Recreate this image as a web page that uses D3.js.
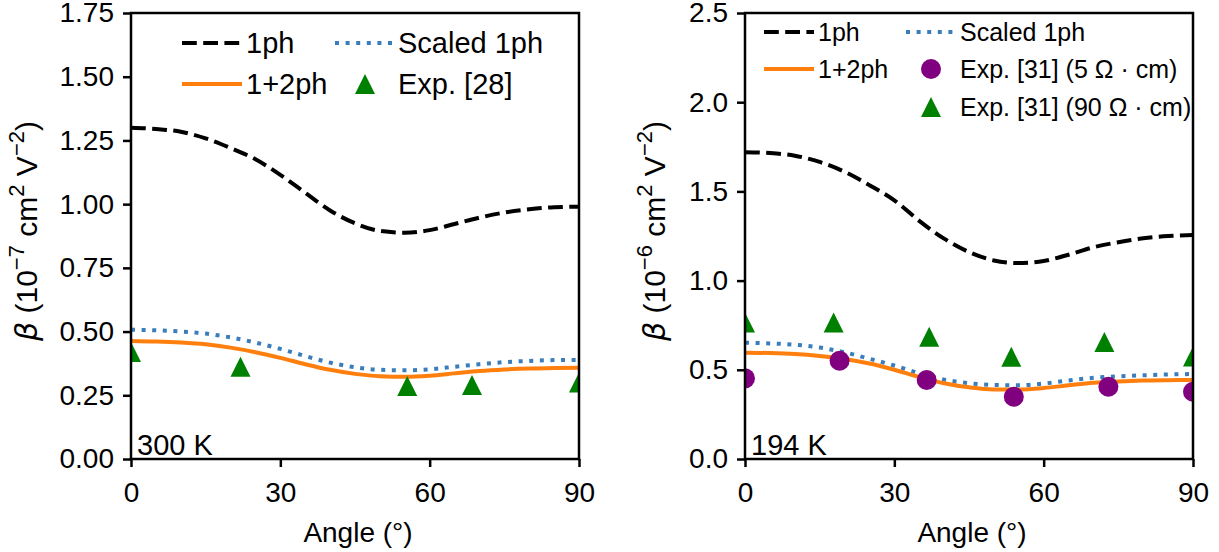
<!doctype html>
<html lang="en">
<head>
<meta charset="UTF-8" />
<title>Beta vs angle</title>
<script src="https://unpkg.com/d3@7.9.0/dist/d3.min.js"></script>
<style>
  body { margin: 0; background: #fff; overflow: hidden; }
  svg { font-family: 'Liberation Sans', Arial, sans-serif; }
  .axis text { font-size: 28px; fill: #000; font-family: 'Liberation Sans', Arial, sans-serif; }
  .axis line { stroke: #000; stroke-width: 2.5; }
  .frame { fill: none; stroke: #000; stroke-width: 2.5; }
  .curve { fill: none; stroke-width: 4; }
</style>
</head>
<body>
<svg width="1219" height="552"></svg>
<script>
const curveAngles = [0, 5, 10, 15, 20, 25, 30, 35, 40, 45, 50, 55, 60, 65, 70, 75, 80, 85, 90];

// 300 K panel (10^-7 cm^2 V^-2)
const left1ph = [1.30, 1.295, 1.284, 1.258, 1.22, 1.176, 1.115, 1.045, 0.975, 0.925, 0.895, 0.888, 0.898, 0.922, 0.947, 0.967, 0.98, 0.988, 0.99];
const leftScaled = [0.507, 0.505, 0.50, 0.492, 0.477, 0.457, 0.432, 0.404, 0.378, 0.36, 0.35, 0.348, 0.352, 0.362, 0.372, 0.38, 0.385, 0.388, 0.389];
const left12ph = [0.463, 0.461, 0.457, 0.45, 0.437, 0.419, 0.397, 0.372, 0.35, 0.334, 0.325, 0.323, 0.327, 0.336, 0.345, 0.351, 0.355, 0.357, 0.358];
const exp28Angles = [0, 22, 55.5, 68.5, 90];
const exp28Values = [0.42, 0.362, 0.286, 0.29, 0.30];

// 194 K panel (10^-6 cm^2 V^-2)
const right1ph = [1.72, 1.715, 1.70, 1.665, 1.61, 1.535, 1.45, 1.335, 1.235, 1.16, 1.113, 1.098, 1.11, 1.145, 1.187, 1.215, 1.237, 1.25, 1.255];
const rightScaled = [0.652, 0.648, 0.641, 0.625, 0.598, 0.562, 0.524, 0.48, 0.445, 0.425, 0.415, 0.413, 0.423, 0.44, 0.455, 0.463, 0.469, 0.474, 0.476];
const right12ph = [0.596, 0.594, 0.589, 0.578, 0.561, 0.535, 0.50, 0.46, 0.425, 0.402, 0.39, 0.39, 0.398, 0.413, 0.427, 0.435, 0.44, 0.442, 0.443];
const exp5Angles = [0, 19, 36.5, 54, 73, 90];
const exp5Values = [0.452, 0.551, 0.443, 0.349, 0.405, 0.377];
const exp90Angles = [0, 17.8, 37, 53.5, 72.2, 90];
const exp90Values = [0.765, 0.765, 0.685, 0.573, 0.656, 0.575];

const xTicks = [0, 30, 60, 90];
const leftYTicks = [0, 0.25, 0.5, 0.75, 1.0, 1.25, 1.5, 1.75];
const rightYTicks = [0, 0.5, 1.0, 1.5, 2.0, 2.5];

const colors = { one: '#000000', scaled: '#3a7dbd', two: '#ff7f0e', tri: '#008000', dot: '#800080' };
const dashed = '14.8,6.4';
const dotted = '4,6.6';
const markerSize = 20;

const svg = d3.select('svg');
const pw = 448, ph = 446;

function trianglePath(s) {
  return `M0,${-s / 2}L${s / 2},${s / 2}L${-s / 2},${s / 2}Z`;
}

function drawPanel(cfg) {
  const g = svg.append('g').attr('transform', `translate(${cfg.left},${cfg.top})`);
  const x = d3.scaleLinear().domain([0, 90]).range([0, pw]);
  const y = d3.scaleLinear().domain([0, cfg.yMax]).range([ph, 0]);

  g.append('clipPath').attr('id', cfg.id)
    .append('rect').attr('width', pw).attr('height', ph);

  const plot = g.append('g').attr('clip-path', `url(#${cfg.id})`);
  const line = d3.line()
    .x((d) => x(d[0]))
    .y((d) => y(d[1]))
    .curve(d3.curveMonotoneX);

  cfg.curves.forEach((c) => {
    plot.append('path')
      .attr('class', 'curve')
      .attr('d', line(curveAngles.map((a, i) => [a, c.values[i]])))
      .attr('stroke', c.color)
      .attr('stroke-dasharray', c.dash);
  });

  cfg.points.forEach((p) => {
    plot.append('g').selectAll('path')
      .data(p.angles.map((a, i) => [a, p.values[i]]))
      .enter()
      .append('path')
      .attr('transform', (d) => `translate(${x(d[0])},${y(d[1])})`)
      .attr('d', p.shape === 'tri' ? trianglePath(markerSize) : d3.symbol(d3.symbolCircle, Math.PI * 100)())
      .attr('fill', p.color);
  });

  // axes
  g.append('g').attr('class', 'axis')
    .call(d3.axisLeft(y).tickValues(cfg.yTicks).tickFormat(d3.format(cfg.yFmt)).tickSize(8).tickPadding(9))
    .call((a) => a.select('.domain').remove());
  g.append('g').attr('class', 'axis')
    .attr('transform', `translate(0,${ph})`)
    .call(d3.axisBottom(x).tickValues(xTicks).tickSize(8).tickPadding(15))
    .call((a) => a.select('.domain').remove());
  g.append('rect').attr('class', 'frame').attr('width', pw).attr('height', ph);

  g.append('text')
    .attr('x', pw / 2 + 3).attr('y', 529)
    .attr('text-anchor', 'middle')
    .attr('font-size', 28)
    .text('Angle (°)');

  const yl = g.append('text')
    .attr('transform', `translate(${cfg.labelX},${ph / 2 - 5}) rotate(-90)`)
    .attr('text-anchor', 'middle')
    .attr('font-size', 30);
  yl.append('tspan').attr('font-style', 'italic').attr('font-family', 'DejaVu Sans').text('β');
  yl.append('tspan').text(' (10');
  yl.append('tspan').attr('font-size', 22).attr('dy', -13).text(cfg.exp);
  yl.append('tspan').attr('dy', 13).text(' cm');
  yl.append('tspan').attr('font-size', 22).attr('dy', -13).text('2');
  yl.append('tspan').attr('dy', 13).text(' V');
  yl.append('tspan').attr('font-size', 22).attr('dy', -13).text('−2');
  yl.append('tspan').attr('dy', 13).text(')');

  g.append('text')
    .attr('x', 6).attr('y', ph - 4)
    .attr('font-size', 29)
    .text(cfg.temp);

  // legend
  const L = cfg.legend;
  L.items.forEach((it) => {
    const ly = L.rows[it.row];
    const col = L.cols[it.col];
    if (it.dash !== undefined) {
      g.append('line')
        .attr('x1', col.h0).attr('x2', col.h1)
        .attr('y1', ly).attr('y2', ly)
        .attr('stroke', it.color).attr('stroke-width', 4)
        .attr('stroke-dasharray', it.dash);
    } else {
      g.append('path')
        .attr('transform', `translate(${col.m},${ly})`)
        .attr('d', it.shape === 'tri' ? trianglePath(markerSize) : d3.symbol(d3.symbolCircle, Math.PI * 100)())
        .attr('fill', it.color);
    }
    g.append('text')
      .attr('x', col.t).attr('y', ly + L.fs * 0.36)
      .attr('font-size', L.fs)
      .text(it.label);
  });
}

drawPanel({
  id: 'clipL', left: 131, top: 13, yMax: 1.75, yTicks: leftYTicks, yFmt: '.2f',
  labelX: -94, exp: '−7', temp: '300 K',
  curves: [
    { values: left1ph, color: colors.one, dash: dashed },
    { values: leftScaled, color: colors.scaled, dash: dotted },
    { values: left12ph, color: colors.two, dash: null },
  ],
  points: [{ angles: exp28Angles, values: exp28Values, color: colors.tri, shape: 'tri' }],
  legend: {
    fs: 29, rows: [30, 71],
    cols: [{ h0: 51, h1: 111, t: 115 }, { h0: 204, h1: 265, t: 267, m: 234 }],
    items: [
      { row: 0, col: 0, label: '1ph', color: colors.one, dash: dashed },
      { row: 0, col: 1, label: 'Scaled 1ph', color: colors.scaled, dash: dotted },
      { row: 1, col: 0, label: '1+2ph', color: colors.two, dash: null },
      { row: 1, col: 1, label: 'Exp. [28]', color: colors.tri, shape: 'tri' },
    ],
  },
});

drawPanel({
  id: 'clipR', left: 745, top: 13, yMax: 2.5, yTicks: rightYTicks, yFmt: '.1f',
  labelX: -80, exp: '−6', temp: '194 K',
  curves: [
    { values: right1ph, color: colors.one, dash: dashed },
    { values: rightScaled, color: colors.scaled, dash: dotted },
    { values: right12ph, color: colors.two, dash: null },
  ],
  points: [
    { angles: exp5Angles, values: exp5Values, color: colors.dot, shape: 'circle' },
    { angles: exp90Angles, values: exp90Values, color: colors.tri, shape: 'tri' },
  ],
  legend: {
    fs: 25, rows: [19, 56, 94],
    cols: [{ h0: 19, h1: 69, t: 73 }, { h0: 161, h1: 211, t: 215, m: 186 }],
    items: [
      { row: 0, col: 0, label: '1ph', color: colors.one, dash: dashed },
      { row: 0, col: 1, label: 'Scaled 1ph', color: colors.scaled, dash: dotted },
      { row: 1, col: 0, label: '1+2ph', color: colors.two, dash: null },
      { row: 1, col: 1, label: 'Exp. [31] (5 Ω · cm)', color: colors.dot, shape: 'circle' },
      { row: 2, col: 1, label: 'Exp. [31] (90 Ω · cm)', color: colors.tri, shape: 'tri' },
    ],
  },
});
</script>
</body>
</html>
